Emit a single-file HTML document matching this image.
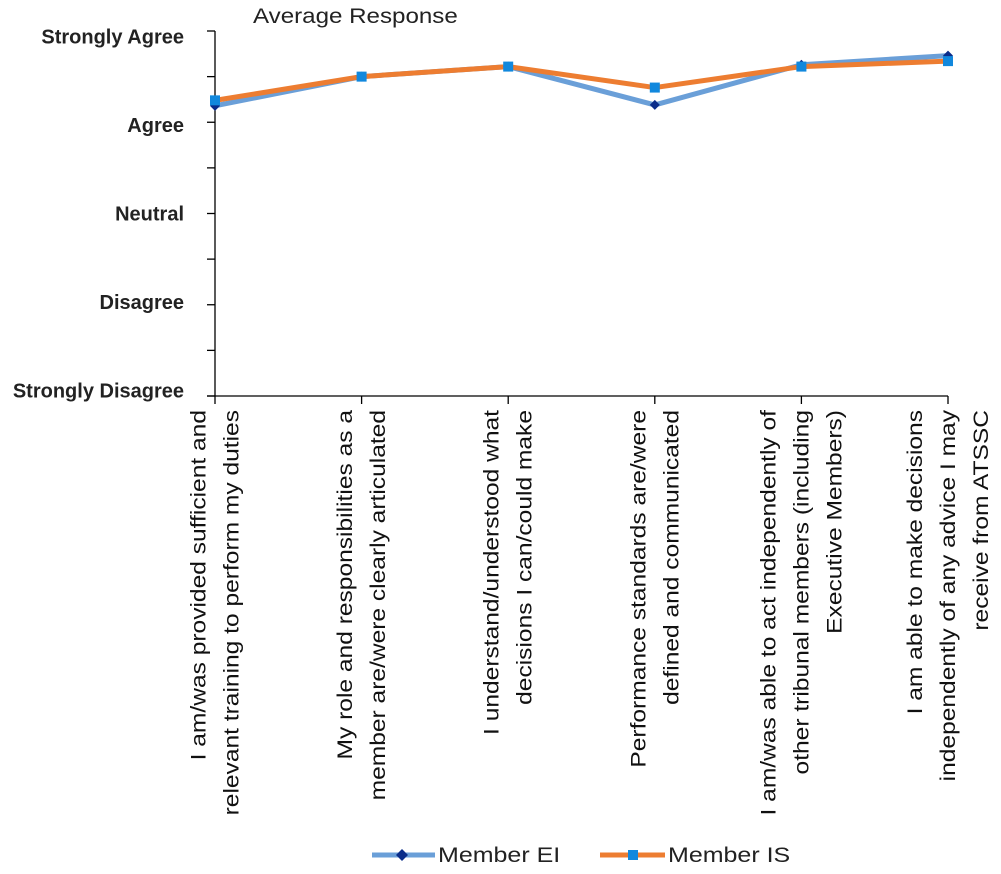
<!DOCTYPE html>
<html><head><meta charset="utf-8"><style>
body{margin:0;background:#fff;}
svg{display:block;font-family:"Liberation Sans",sans-serif;}
</style></head><body>
<svg id="chart" width="1001" height="874">
<text transform="translate(253,23) scale(1.15,1)" font-size="21" fill="#222">Average Response</text>
<g id="yaxis"></g><g id="xaxis"></g><g id="series"></g>
<g>
<g>
<line x1="372" y1="855" x2="435" y2="855" stroke="#6a9fd8" stroke-width="5"/>
<path d="M402 849 L408 855 L402 861 L396 855Z" fill="#0b2d8a"/>
<text transform="translate(438,862) scale(1.19,1)" font-size="21" fill="#222">Member EI</text></g>
<g>
<line x1="600" y1="855" x2="665" y2="855" stroke="#ed7d31" stroke-width="5"/>
<rect x="628" y="850" width="10" height="10" fill="#1188dd"/>
<text transform="translate(668,862) scale(1.19,1)" font-size="21" fill="#222">Member IS</text></g>
</g>
</svg>
<script>
const categories=[
["I am/was provided sufficient and","relevant training to perform my duties"],
["My role and responsibilities as a","member are/were clearly articulated"],
["I understand/understood what","decisions I can/could make"],
["Performance standards are/were","defined and communicated"],
["I am/was able to act independently of","other tribunal members (including","Executive Members)"],
["I am able to make decisions","independently of any advice I may","receive from  ATSSC"]];
const seriesEI=[4.18,4.50,4.61,4.19,4.63,4.73];
const seriesIS=[4.24,4.50,4.61,4.38,4.61,4.67];
const yTickLabels=["Strongly Disagree","Disagree","Neutral","Agree","Strongly Agree"];
const NS="http://www.w3.org/2000/svg";
const x0=215,dx=146.6,yTop=31,yBot=396;
const xs=i=>x0+i*dx;
const ys=v=>yBot-(v-1)/4*(yBot-yTop);
function mk(t,a,p){const e=document.createElementNS(NS,t);for(const k in a)e.setAttribute(k,a[k]);p.appendChild(e);return e;}
const ya=document.getElementById('yaxis'),xa=document.getElementById('xaxis'),sg=document.getElementById('series');
const yl=mk('line',{x1:x0,y1:yTop,x2:x0,y2:yBot,stroke:'#000','stroke-width':1.3},ya);


for(let k=0;k<=8;k++){const v=1+k*0.5;mk('line',{x1:207,y1:ys(v),x2:x0,y2:ys(v),stroke:'#000','stroke-width':1.3},ya);}
yTickLabels.forEach((l,i)=>{const cy=213+(ys(i+1)-213)*0.97;const t=mk('text',{x:184,y:cy+7,'text-anchor':'end','font-size':20,'font-weight':'bold',fill:'#222'},ya);t.textContent=l;

});
const xl=mk('line',{x1:207,y1:yBot,x2:xs(categories.length-1),y2:yBot,stroke:'#000','stroke-width':1.3},xa);


categories.forEach((lines,i)=>{const x=xs(i);mk('line',{x1:x,y1:yBot,x2:x,y2:404,stroke:'#000','stroke-width':1.3},xa);
const n=lines.length;
lines.forEach((s,j)=>{const lx=x+(j-(n-1)/2)*33+7;const t=mk('text',{x:0,y:0,transform:`translate(${lx},410) rotate(-90) scale(1.17,1)`,'text-anchor':'end','font-size':21,fill:'#111'},xa);t.textContent=s;

});});
function line(vals,color,name){const p=mk('polyline',{points:vals.map((v,i)=>xs(i)+','+ys(v)).join(' '),fill:'none',stroke:color,'stroke-width':5,'stroke-linejoin':'round'},sg);

}
line(seriesEI,'#6a9fd8','series-ei-line');
line(seriesIS,'#ed7d31','series-is-line');
seriesEI.forEach((v,i)=>{const x=xs(i),y=ys(v);const m=mk('path',{d:`M${x} ${y-5}L${x+5} ${y}L${x} ${y+5}L${x-5} ${y}Z`,fill:'#0b2d8a'},sg);

});
seriesIS.forEach((v,i)=>{const x=xs(i),y=ys(v);const m=mk('rect',{x:x-5,y:y-5,width:10,height:10,fill:'#1188dd'},sg);

});
</script>
</body></html>
